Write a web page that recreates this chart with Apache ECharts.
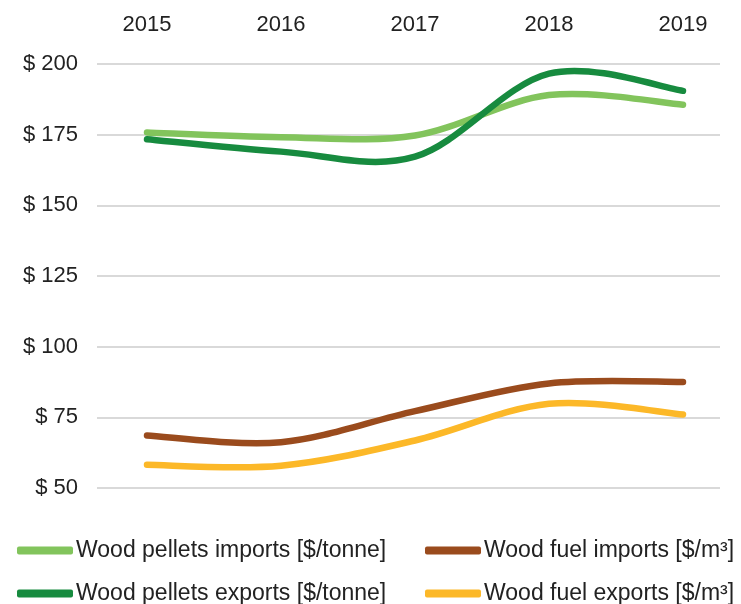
<!DOCTYPE html>
<html><head><meta charset="utf-8">
<script src="https://cdn.jsdelivr.net/npm/echarts@6/dist/echarts.min.js"></script>
<style>html,body{margin:0;padding:0;background:#fff}#c{width:741px;height:604px}</style>
</head><body><div id="c"></div>
<script>
const years = ['2015','2016','2017','2018','2019'];
const pelletsImports = [175.8, 174.1, 174.7, 189.0, 185.6];
const pelletsExports = [173.4, 169.0, 167.2, 196.6, 190.5];
const fuelImports = [68.6, 66.2, 77.2, 87.0, 87.5];
const fuelExports = [58.2, 57.9, 66.8, 79.8, 76.0];
const yTicks = [50, 75, 100, 125, 150, 175, 200];
const names = ['Wood pellets imports [$/tonne]','Wood pellets exports [$/tonne]','Wood fuel imports [$/m³]','Wood fuel exports [$/m³]'];
const colors = ['#82c45c','#178b3f','#9a4b1d','#fcb828'];
const FONT = '"Liberation Sans", Arial, sans-serif';
const chart = echarts.init(document.getElementById('c'));
function lg(i, left, top){
  return {data:[names[i]], left:left, top:top, icon:'roundRect', itemWidth:56, itemHeight:8, itemGap:0,
    textStyle:{fontFamily:FONT, fontSize:23, color:'#222', padding:[0,0,0,-2]}};
}
// smooth (Excel-like Catmull-Rom) path through the points, positions from the axes
function smoothSeries(arr, i){
  return {
    name:names[i], type:'custom', xAxisIndex:1, yAxisIndex:1,
    data: arr.map((v,k)=>[k, v]),
    itemStyle:{color:colors[i]},
    renderItem: function(params, api){
      if (params.dataIndex !== 0) return null;
      const p = arr.map((v,k)=>api.coord([k, v]));
      let d = 'M' + p[0][0] + ' ' + p[0][1];
      for (let k = 0; k < p.length - 1; k++){
        const p0 = p[k-1] || p[k], p1 = p[k], p2 = p[k+1], p3 = p[k+2] || p[k+1];
        const c1x = p1[0] + (p2[0]-p0[0])/6, c1y = p1[1] + (p2[1]-p0[1])/6;
        const c2x = p2[0] - (p3[0]-p1[0])/6, c2y = p2[1] - (p3[1]-p1[1])/6;
        d += ' C' + c1x + ' ' + c1y + ' ' + c2x + ' ' + c2y + ' ' + p2[0] + ' ' + p2[1];
      }
      return {type:'path', shape:{pathData:d},
        style:{fill:null, stroke:colors[i], lineWidth:6.5, lineCap:'round', lineJoin:'round'}};
    }
  };
}
chart.setOption({
  animation:false,
  grid:[{left:97, right:21, top:64, bottom:116},{left:147, right:58, top:64, bottom:116}],
  xAxis:[
    {gridIndex:0, type:'category', data:years, show:false},
    {gridIndex:1, type:'category', data:years, position:'top', boundaryGap:false,
     axisLine:{show:false}, axisTick:{show:false},
     axisLabel:{margin:28, fontFamily:FONT, fontSize:22, color:'#222'}}
  ],
  yAxis:[
    {gridIndex:0, type:'value', min:yTicks[0], max:yTicks[yTicks.length-1], interval:25,
     axisLine:{show:false}, axisTick:{show:false},
     splitLine:{lineStyle:{color:'#cccccc', width:1.5}},
     axisLabel:{margin:19, fontFamily:FONT, fontSize:22, color:'#222', formatter:v=>'$ '+v}},
    {gridIndex:1, type:'value', min:yTicks[0], max:yTicks[yTicks.length-1], interval:25, show:false, splitLine:{show:false}}
  ],
  legend:[lg(0,12,534), lg(1,12,577), lg(2,420,534), lg(3,420,577)],
  series:[pelletsImports, pelletsExports, fuelImports, fuelExports].map((d,i)=>smoothSeries(d,i))
});
</script></body></html>
